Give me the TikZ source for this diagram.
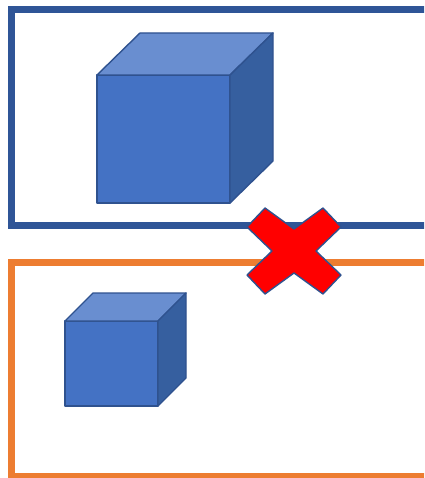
\documentclass[tikz,border=0pt]{standalone}
\definecolor{frameblue}{HTML}{2F5597}
\definecolor{frameorange}{HTML}{ED7D31}
\definecolor{cubefront}{HTML}{4472C4}
\definecolor{cubetop}{HTML}{698ED0}
\definecolor{cubeside}{HTML}{365F9F}
\definecolor{cubeline}{HTML}{2F528F}
\begin{document}
\begin{tikzpicture}[x=1pt,y=-1pt,
    framebox/.style={line width=7pt},
    face/.style={draw=cubeline,line width=1.4pt,line join=round}]
    \useasboundingbox (0,0) rectangle (424,478);
    \clip (0,0) rectangle (424,478);
    % the two frames, open to the right
    \draw[framebox,draw=frameblue] (440,9.5) -- (11.5,9.5) -- (11.5,225) -- (440,225);
    \draw[framebox,draw=frameorange] (440,262) -- (11.5,262) -- (11.5,476) -- (440,476);
    % large cube
    \draw[face,fill=cubefront] (97,75) rectangle (230,203);
    \draw[face,fill=cubetop] (97,75) -- (140,33) -- (273,33) -- (230,75) -- cycle;
    \draw[face,fill=cubeside] (230,75) -- (273,33) -- (273,161) -- (230,203) -- cycle;
    % small cube
    \draw[face,fill=cubefront] (65,321) rectangle (158,406);
    \draw[face,fill=cubetop] (65,321) -- (93,293) -- (186,293) -- (158,321) -- cycle;
    \draw[face,fill=cubeside] (158,321) -- (186,293) -- (186,378) -- (158,406) -- cycle;
    % cross
    \draw[face,fill=red,shift={(294,251)}]
        (-29,-43) -- (0,-22) -- (29,-43) -- (47,-24) -- (22,0) -- (47,24) -- (29,43)
        -- (0,22) -- (-29,43) -- (-47,24) -- (-22,0) -- (-47,-24) -- cycle;
\end{tikzpicture}
\end{document}
